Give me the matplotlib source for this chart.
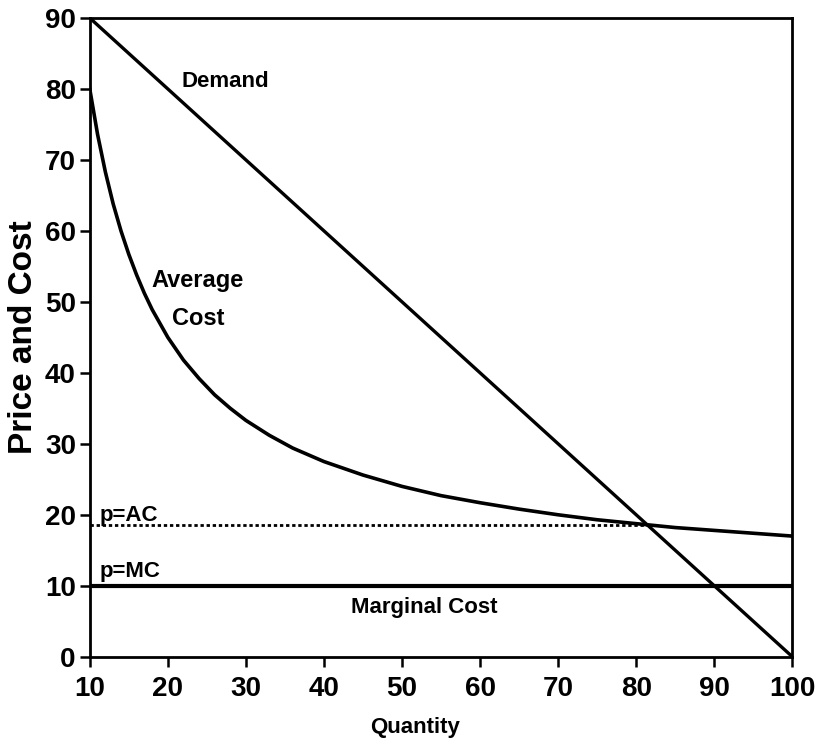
import matplotlib
matplotlib.use("Agg")
import matplotlib.pyplot as plt

# values
quantity = [10, 11, 12, 13, 14, 15, 16, 17, 18, 20, 22, 24, 26, 28, 30, 33, 36, 40,
            45, 50, 55, 60, 65, 70, 75, 80, 85, 90, 95, 100]
avg_cost = [80, 73.6, 68.3, 63.8, 60, 56.7, 53.8, 51.2, 48.9, 45, 41.8, 39.2, 36.9, 35,
            33.3, 31.2, 29.4, 27.5, 25.6, 24, 22.7, 21.7, 20.8, 20, 19.3, 18.75, 18.2,
            17.8, 17.4, 17]
demand_q = [10, 100]
demand_p = [90, 0]
mc_q = [10, 100]
mc_p = [10, 10]
pac_q = [10, 81.4]
pac_p = [18.6, 18.6]

xticks = [10, 20, 30, 40, 50, 60, 70, 80, 90, 100]
yticks = [0, 10, 20, 30, 40, 50, 60, 70, 80, 90]

plt.rcParams["font.family"] = ["Liberation Sans", "DejaVu Sans"]
plt.rcParams["font.weight"] = "bold"

fig = plt.figure(figsize=(8.16, 7.48), dpi=100)
ax = fig.add_axes([0.110, 0.122, 0.861, 0.854])

ax.plot(demand_q, demand_p, color="black", lw=2.4, solid_capstyle="butt")
ax.plot(quantity, avg_cost, color="black", lw=2.6)
ax.plot(mc_q, mc_p, color="black", lw=3.0, solid_capstyle="butt")
ax.plot(pac_q, pac_p, color="black", lw=2.0, ls=(0, (1.2, 1.0)))

lab = dict(fontsize=16, fontweight="bold", va="baseline")
ax.text(27.4, 80.3, "Demand", ha="center", **lab)
ax.text(23.8, 52.1, "Average", ha="center", fontsize=17, fontweight="bold", va="baseline")
ax.text(23.9, 46.8, "Cost", ha="center", fontsize=17, fontweight="bold", va="baseline")
ax.text(11.2, 19.1, "p=AC", ha="left", **lab)
ax.text(11.2, 11.3, "p=MC", ha="left", **lab)
ax.text(52.8, 6.2, "Marginal Cost", ha="center", **lab)

ax.set_xlim(10, 100)
ax.set_ylim(0, 90)
ax.set_xticks(xticks)
ax.set_yticks(yticks)
ax.tick_params(direction="out", length=7, width=1.8, labelsize=20)
ax.tick_params(axis="x", pad=7)
ax.tick_params(axis="y", pad=3)
for t in ax.get_xticklabels() + ax.get_yticklabels():
    t.set_fontweight("bold")
for s in ax.spines.values():
    s.set_linewidth(2.0)

ax.set_xlabel("Quantity", fontsize=16, fontweight="bold")
ax.xaxis.set_label_coords(0.463, -0.095)
ax.set_ylabel("Price and Cost", fontsize=24, fontweight="bold")
ax.yaxis.set_label_coords(-0.072, 0.5)

fig.savefig("out.png", dpi=100)
